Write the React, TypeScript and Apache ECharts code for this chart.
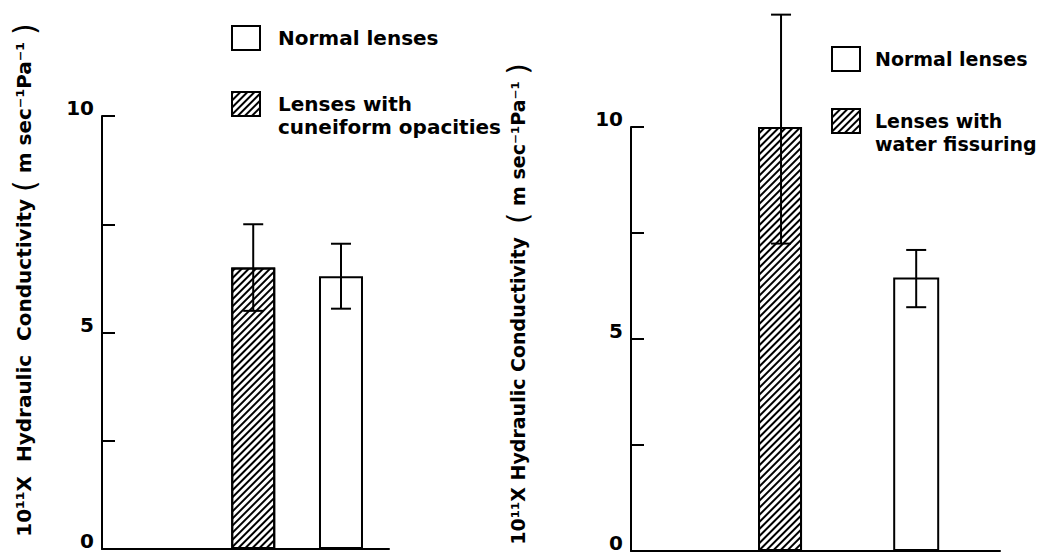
import { useEffect, useRef } from 'react';
import * as echarts from 'echarts';

// Panel A: cuneiform opacities vs normal
const groupsA = ['Lenses with\ncuneiform opacities', 'Normal lenses'];
const meansA = [6.5, 6.3];
const lowA = [5.5, 5.55];
const highA = [7.5, 7.05];

// Panel B: water fissuring vs normal
const groupsB = ['Lenses with\nwater fissuring', 'Normal lenses'];
const meansB = [10.0, 6.45];
const lowB = [7.25, 5.75];
const highB = [12.65, 7.1];

const yShownTicks = [0, 5, 10];
const yTitleMainA = '10¹¹X  Hydraulic  Conductivity ';
const yTitleMainB = '10¹¹X Hydraulic Conductivity  ';
const yTitleUnit = ' m sec⁻¹Pa⁻¹ ';

const FONT = "'DejaVu Sans', sans-serif";

const hatch = {
  symbol: 'rect',
  symbolSize: 1,
  color: '#000',
  backgroundColor: '#fff',
  dashArrayX: [1, 0],
  dashArrayY: [1.3, 2.6],
  rotation: -Math.PI / 4,
};

const hatchedStyle = { color: '#fff', borderColor: '#000', borderWidth: 2, decal: hatch };
const openStyle = { color: '#fff', borderColor: '#000', borderWidth: 2 };

function errorRender(params: any, api: any) {
  const x = api.value(0);
  const lo = api.coord([x, api.value(1)]);
  const hi = api.coord([x, api.value(2)]);
  const hw = 10;
  const st = { stroke: '#000', lineWidth: 2 };
  return {
    type: 'group',
    children: [
      { type: 'line', shape: { x1: lo[0], y1: lo[1], x2: hi[0], y2: hi[1] }, style: st },
      { type: 'line', shape: { x1: lo[0] - hw, y1: lo[1], x2: lo[0] + hw, y2: lo[1] }, style: st },
      { type: 'line', shape: { x1: hi[0] - hw, y1: hi[1], x2: hi[0] + hw, y2: hi[1] }, style: st },
    ],
  };
}

function yAxisFor(gridIndex: number) {
  return {
    type: 'value',
    gridIndex,
    min: 0,
    max: 10,
    interval: 2.5,
    axisLine: { show: true, onZero: false, lineStyle: { color: '#000', width: 2 } },
    axisTick: { show: true, inside: true, length: 13, lineStyle: { color: '#000', width: 2 } },
    splitLine: { show: false },
    axisLabel: {
      margin: 8,
      color: '#000',
      fontFamily: FONT,
      fontWeight: 'bold',
      fontSize: 20,
      verticalAlign: 'bottom',
      lineHeight: 16,
      formatter: (v: number) => (yShownTicks.includes(v) ? String(v) : ''),
    },
  };
}

function xAxisFor(gridIndex: number, min: number, max: number) {
  return {
    type: 'value',
    gridIndex,
    min,
    max,
    axisLine: { show: true, onZero: false, lineStyle: { color: '#000', width: 2 } },
    axisTick: { show: false },
    axisLabel: { show: false },
    splitLine: { show: false },
  };
}

function legendFor(left: number, top: number, gap: number, fontSize: number, padLeft: number, names: string[]) {
  return {
    left,
    top,
    padding: 0,
    orient: 'vertical',
    icon: 'rect',
    itemWidth: 28,
    itemHeight: 24,
    itemGap: gap,
    selectedMode: false,
    itemStyle: { borderColor: '#000', borderWidth: 2 },
    // leading blank line keeps the first text line level with the icon
    formatter: (name: string) => (name.indexOf('\n') >= 0 ? '\n' + name : name),
    textStyle: {
      fontFamily: FONT,
      fontWeight: 'bold',
      fontSize,
      color: '#000',
      lineHeight: 23,
      padding: [0, 0, 0, padLeft],
    },
    data: [names[1], names[0]],
  };
}

function titleText(x: number, y: number, main: string, size: number) {
  return {
    type: 'text',
    x,
    y,
    rotation: Math.PI / 2,
    style: {
      text: `{t|${main}}{p|(}{t|${yTitleUnit}}{p|)}`,
      align: 'center',
      verticalAlign: 'middle',
      fill: '#000',
      rich: {
        t: { fontFamily: FONT, fontWeight: 'bold', fontSize: size, fill: '#000' },
        p: { fontFamily: FONT, fontWeight: 'normal', fontSize: size + 10, fill: '#000' },
      },
    },
  };
}

export default function App() {
  const ref = useRef<HTMLDivElement>(null);
  useEffect(() => {
    if (!ref.current) return;
    const chart = echarts.init(ref.current, null, { renderer: 'svg' });
    chart.setOption({
      animation: false,
      backgroundColor: '#fff',
      grid: [
        { left: 102, top: 116, width: 287, height: 433 },
        { left: 631, top: 127, width: 369, height: 424 },
      ],
      xAxis: [xAxisFor(0, -1.723, 1.547), xAxisFor(1, -1.11, 1.62)],
      yAxis: [yAxisFor(0), yAxisFor(1)],
      legend: [
        legendFor(231, 25, 18.5, 20, 13, groupsA),
        legendFor(831, 46, 14.5, 19, 10, groupsB),
      ],
      graphic: [titleText(24, 280, yTitleMainA, 20), titleText(518, 304, yTitleMainB, 19)],
      series: [
        {
          name: groupsA[0], type: 'bar', xAxisIndex: 0, yAxisIndex: 0, barWidth: 44, barGap: '-100%',
          itemStyle: hatchedStyle, data: [[0, meansA[0]]],
        },
        {
          name: groupsA[1], type: 'bar', xAxisIndex: 0, yAxisIndex: 0, barWidth: 44, barGap: '-100%',
          itemStyle: openStyle, data: [[1, meansA[1]]],
        },
        {
          name: groupsB[0], type: 'bar', xAxisIndex: 1, yAxisIndex: 1, barWidth: 44, barGap: '-100%',
          itemStyle: hatchedStyle, data: [[0, meansB[0]]],
        },
        {
          name: groupsB[1], type: 'bar', xAxisIndex: 1, yAxisIndex: 1, barWidth: 46, barGap: '-100%',
          itemStyle: openStyle, data: [[1, meansB[1]]],
        },
        {
          type: 'custom', xAxisIndex: 0, yAxisIndex: 0, clip: false, z: 5,
          renderItem: errorRender, encode: { x: 0, y: [1, 2] },
          data: meansA.map((_, i) => [i, lowA[i], highA[i]]),
        },
        {
          type: 'custom', xAxisIndex: 1, yAxisIndex: 1, clip: false, z: 5,
          renderItem: errorRender, encode: { x: 0, y: [1, 2] },
          data: meansB.map((_, i) => [i, lowB[i], highB[i]]),
        },
      ],
    });
    return () => chart.dispose();
  }, []);
  return <div ref={ref} style={{ position: 'fixed', left: 0, top: 0, width: 1041, height: 558 }} />;
}
